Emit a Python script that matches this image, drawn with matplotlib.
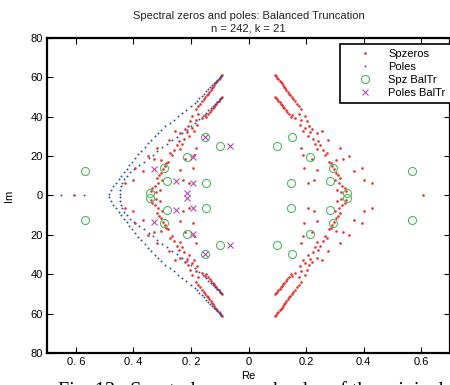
import numpy as np
import matplotlib
matplotlib.use('Agg')
import matplotlib.pyplot as plt

plt.rcParams['font.family'] = ['Liberation Sans', 'DejaVu Sans']

# poles: upper half of the two branches (conjugates mirrored below)
pole_outer_x = [-0.486, -0.478, -0.469, -0.460, -0.451, -0.442, -0.432, -0.423, -0.414, -0.404,
                -0.395, -0.384, -0.372, -0.361, -0.349, -0.338, -0.326, -0.315, -0.303, -0.289,
                -0.274, -0.260, -0.245, -0.230, -0.216, -0.201, -0.187, -0.179, -0.171, -0.163,
                -0.155, -0.147, -0.140, -0.133, -0.126, -0.119, -0.114, -0.109, -0.104, -0.099, -0.095]
pole_outer_y = [1.0, 2.8, 4.6, 6.4, 8.2, 10.0, 11.8, 13.6, 15.4, 17.2,
                19.0, 20.9, 22.8, 24.7, 26.6, 28.3, 30.0, 31.7, 33.4, 35.1,
                36.8, 38.5, 40.2, 41.9, 43.6, 45.3, 47.0, 48.2, 49.4, 50.6,
                51.8, 53.0, 54.0, 55.0, 56.0, 57.0, 57.8, 58.6, 59.3, 60.0, 60.6]
pole_inner_x = [-0.447, -0.446, -0.443, -0.439, -0.432, -0.423, -0.411, -0.397, -0.380, -0.362,
                -0.347, -0.332, -0.317, -0.301, -0.284, -0.266, -0.249, -0.231, -0.215, -0.200,
                -0.186, -0.171, -0.157, -0.147, -0.139, -0.131, -0.122, -0.115, -0.110, -0.104,
                -0.099, -0.095]
pole_inner_y = [1.0, 2.8, 4.6, 6.4, 8.2, 10.0, 11.8, 13.6, 15.4, 17.2,
                19.0, 20.8, 22.6, 24.4, 26.2, 28.0, 29.8, 31.6, 33.4, 35.2,
                37.0, 38.8, 40.6, 42.0, 43.2, 44.4, 45.6, 46.6, 47.4, 48.2,
                49.0, 49.6]
pole_real_x = [-0.650, -0.572]

# spectral zeros: first quadrant (mirrored to the other three)
spz_line1_x = [0.092, 0.096, 0.100, 0.104, 0.108, 0.112, 0.116, 0.120, 0.124, 0.128,
               0.132, 0.136, 0.140, 0.145, 0.150, 0.156, 0.162, 0.169, 0.176, 0.184]
spz_line1_y = [61.2, 60.5, 59.8, 59.1, 58.4, 57.7, 57.0, 56.2, 55.3, 54.4,
               53.5, 52.6, 51.8, 50.8, 49.8, 48.8, 47.8, 46.6, 45.3, 43.9]
spz_line2_x = [0.092, 0.096, 0.100, 0.104, 0.108, 0.112, 0.116, 0.120, 0.124, 0.129, 0.134, 0.140, 0.146]
spz_line2_y = [50.2, 49.5, 48.8, 48.1, 47.4, 46.7, 46.0, 45.2, 44.4, 43.5, 42.5, 41.3, 40.1]
spz_scat_x = [0.152, 0.160, 0.174, 0.181, 0.195, 0.202, 0.178, 0.196, 0.210, 0.222,
              0.188, 0.214, 0.238, 0.254, 0.206, 0.224, 0.243, 0.276, 0.232, 0.183,
              0.237, 0.258, 0.272, 0.318, 0.191, 0.222, 0.278, 0.288, 0.305, 0.330,
              0.348, 0.194, 0.237, 0.296, 0.304, 0.312, 0.318, 0.368, 0.396, 0.206,
              0.229, 0.300, 0.316, 0.325, 0.334, 0.340, 0.306, 0.322, 0.402, 0.429,
              0.265, 0.248, 0.290]
spz_scat_y = [41.0, 39.2, 41.2, 38.4, 40.2, 37.8, 35.6, 34.4, 35.4, 34.0,
              33.0, 32.4, 31.6, 32.8, 30.0, 28.8, 27.6, 28.4, 26.2, 24.2,
              23.4, 23.0, 21.8, 24.2, 20.8, 18.4, 17.2, 16.4, 17.8, 18.6,
              20.0, 13.9, 12.7, 13.6, 11.6, 10.2, 8.8, 12.3, 14.0, 6.4,
              7.7, 8.0, 6.2, 5.0, 3.8, 2.4, 2.6, 1.6, 7.7, 6.4,
              20.4, 25.8, 15.0]
spz_real_x = [-0.607, 0.605]

# balanced truncation: spectral zeros (first quadrant) and poles (upper half)
bt_spz_x = [0.098, 0.151, 0.212, 0.293, 0.282, 0.147, 0.341, 0.569]
bt_spz_y = [25.0, 29.6, 19.8, 13.9, 7.6, 6.3, 1.3, 12.3]
bt_pole_x = [-0.066, -0.151, -0.193, -0.329, -0.253, -0.192, -0.212]
bt_pole_y = [25.0, 29.7, 19.7, 13.7, 7.5, 6.2, 1.1]

zx = np.array(spz_line1_x + spz_line2_x + spz_scat_x)
zy = np.array(spz_line1_y + spz_line2_y + spz_scat_y)
spz_x = np.concatenate([zx, -zx, zx, -zx, spz_real_x])
spz_y = np.concatenate([zy, zy, -zy, -zy, [0, 0]])

px = np.array(pole_outer_x + pole_inner_x)
py = np.array(pole_outer_y + pole_inner_y)
pol_x = np.concatenate([px, px, pole_real_x])
pol_y = np.concatenate([py, -py, [0, 0]])

bx = np.array(bt_spz_x)
by = np.array(bt_spz_y)
bts_x = np.concatenate([bx, -bx, bx, -bx])
bts_y = np.concatenate([by, by, -by, -by])
btp_x = np.concatenate([bt_pole_x, bt_pole_x])
btp_y = np.concatenate([bt_pole_y, -np.array(bt_pole_y)])

red = '#e8342e'
blue = '#2d4fa6'
green = '#4cba62'
magenta = '#b04fb4'

fig = plt.figure(figsize=(4.5, 3.85), dpi=100)
ax = fig.add_axes([47 / 450, 1 - 353 / 385, 403 / 450, 315 / 385])

ax.plot(spz_x, spz_y, '.', color=red, ms=3.8, mew=0, label='Spzeros')
ax.plot(pol_x, pol_y, '.', color=blue, ms=2.8, mew=0, label='Poles')
ax.plot(bts_x, bts_y, 'o', mfc='none', mec=green, ms=5.8, mew=0.8, label='Spz BalTr')
ax.plot(btp_x, btp_y, 'x', color=magenta, ms=4, mew=0.8, label='Poles BalTr')

ax.set_xlim(-0.7, 0.7)
ax.set_ylim(-80, 80)
ax.set_xticks([-0.6, -0.4, -0.2, 0, 0.2, 0.4, 0.6])
ax.set_xticklabels(['0. 6', '0. 4', '0. 2', '0', '0.2', '0.4', '0.6'])
ax.set_yticks([-80, -60, -40, -20, 0, 20, 40, 60, 80])
ax.set_yticklabels(['80', '60', '40', '20', '0', '20', '40', '60', '80'])
ax.tick_params(direction='in', top=True, right=True, length=4, width=0.8,
               labelsize=8, colors='black', pad=3)
for s in ax.spines.values():
    s.set_linewidth(1.6)

ax.set_xlabel('Re', fontsize=8)
ax.xaxis.set_label_coords(0.5, -0.056)
ax.set_ylabel('Im', fontsize=8)
ax.yaxis.set_label_coords(-0.083, 0.5)
ax.set_title('Spectral zeros and poles: Balanced Truncation\nn = 242, k = 21',
             fontsize=8, pad=5, linespacing=1.3, color='#222222')

leg = ax.legend(loc='upper left', bbox_to_anchor=(0.727, 0.982), fontsize=8,
                fancybox=False, edgecolor='black', framealpha=1, borderaxespad=0,
                handletextpad=0.35, labelspacing=0.25, handlelength=3.5, borderpad=0.5)
leg.get_frame().set_linewidth(1.2)

fig.text(58 / 450, -0.028, 'Fig. 13.  Spectral zeros and poles of the original and reduced',
         fontsize=14.5, family='Liberation Serif', ha='left', va='baseline')

fig.savefig('out.png', dpi=100)
